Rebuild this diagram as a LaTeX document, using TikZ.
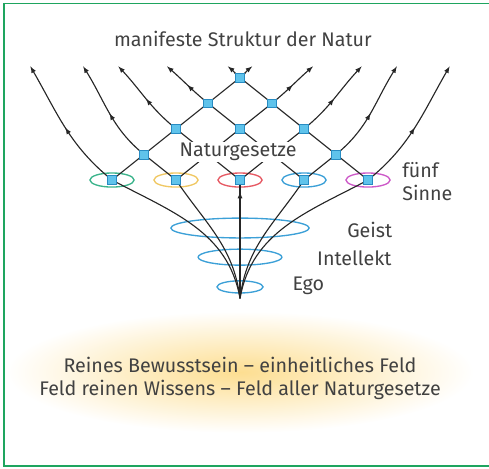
\documentclass[tikz,border=0pt]{standalone}
\usepackage{fontspec}
\setmainfont{Fira Sans}
\usetikzlibrary{decorations.markings}

\definecolor{rahmen}{RGB}{30,165,95}
\definecolor{knoten}{RGB}{95,195,235}
\definecolor{knotenrand}{RGB}{40,140,195}
\definecolor{blau}{RGB}{60,160,215}
\definecolor{gruen}{RGB}{60,180,140}
\definecolor{gelb}{RGB}{240,200,100}
\definecolor{rot}{RGB}{230,90,100}
\definecolor{lila}{RGB}{205,90,200}
\definecolor{schrift}{RGB}{65,65,65}
\definecolor{glanz}{RGB}{253,222,145}

\tikzset{
    linie/.style={line width=1pt, black!85},
    pfeilmitte/.style={postaction={decorate},
        decoration={markings, mark=at position #1 with {\arrow{latex}}}},
    punkt/.style={rectangle, fill=knoten, draw=knotenrand, line width=0.4pt,
        minimum size=0.27cm, inner sep=0pt},
    beschriftung/.style={text=schrift, inner sep=1pt,
        font=\fontsize{17.5}{20.4}\selectfont}
}

\begin{document}
\begin{tikzpicture}[>=latex]
    \useasboundingbox (-7.5,-9) rectangle (7.78,5.625);

    % 1. Leuchtendes Feld im Hintergrund
    \shade[inner color=glanz, outer color=white] (0,-6.0) ellipse [x radius=7.3, y radius=1.9];

    % 2. Rahmen
    \draw[rahmen, line width=1.5pt] (8,5.52) -- (-7.375,5.52) -- (-7.375,-8.94) -- (8,-8.94);

    % 3. Punkte: Sinne (k11 ... k55) und Gitter
    \coordinate (B) at (0,-3.7);
    \foreach \i in {1,...,5} {
        \foreach \j in {\i,...,5} {
            \coordinate (k\i\j) at ({\i+\j-6},{0.8*(\j-\i)});
        }
    }

    % 4. Ego, Intellekt, Geist
    \draw[blau, line width=1.2pt] (0,-3.34) ellipse [x radius=0.72, y radius=0.19];
    \draw[blau, line width=1.2pt] (0,-2.41) ellipse [x radius=1.31, y radius=0.25];
    \draw[blau, line width=1.2pt] (0,-1.5) ellipse [x radius=2.16, y radius=0.31];

    % 5. Fünf Sinne
    \foreach \i/\farbe in {1/gruen, 2/gelb, 3/rot, 4/blau, 5/lila} {
        \draw[\farbe, line width=1.2pt] (k\i\i) ellipse [x radius=0.69, y radius=0.22];
    }

    % 6. Vom Ego zu den Sinnen
    \draw[linie] (B) to[out=100, in=-28] (k11);
    \draw[linie] (B) to[out=97, in=-56] (k22);
    \draw[linie, pfeilmitte=0.9] (B) -- (k33);
    \draw[linie] (B) to[out=83, in=-124] (k44);
    \draw[linie] (B) to[out=80, in=-152] (k55);

    % 7. Linien nach links oben
    \foreach \j/\x/\ein in {1/-6.55/-60, 2/-4.9/-58, 3/-3.8/-47, 4/-2.28/-41, 5/-0.38/-39} {
        \coordinate (l\j) at (\x,3.55);
        \draw[linie] (k\j\j) -- (k1\j);
        \draw[linie, ->, pfeilmitte=0.5] (k1\j) to[out=141, in=\ein] (l\j);
    }

    % 8. Linien nach rechts oben
    \foreach \i/\x/\ein in {1/0.38/-141, 2/2.28/-139, 3/3.8/-133, 4/4.9/-122, 5/6.55/-120} {
        \coordinate (r\i) at (\x,3.55);
        \draw[linie] (k\i\i) -- (k\i5);
        \draw[linie, ->, pfeilmitte=0.5] (k\i5) to[out=39, in=\ein] (r\i);
    }

    % 9. Knoten
    \foreach \p in {11,22,33,44,55,12,13,14,15,24,25,35,45} {
        \node[punkt] (p\p) at (k\p) {};
    }

    % 10. Beschriftungen
    \node[beschriftung] (titel) at (0.09,4.41) {manifeste Struktur der Natur};
    \node[beschriftung, fill=white] (gesetze) at (-0.06,0.87) {Naturgesetze};
    \node[beschriftung, anchor=west, align=left] (sinne) at (5.03,-0.05) {fünf\\Sinne};
    \node[beschriftung, anchor=west] (geist) at (3.31,-1.56) {Geist};
    \node[beschriftung, anchor=west] (intellekt) at (2.37,-2.44) {Intellekt};
    \node[beschriftung, anchor=west] (ego) at (1.6,-3.31) {Ego};
    \node[beschriftung, align=center] (feld) at (0,-6.2)
        {Reines Bewusstsein – einheitliches Feld\\Feld reinen Wissens – Feld aller Naturgesetze};
\end{tikzpicture}
\end{document}
